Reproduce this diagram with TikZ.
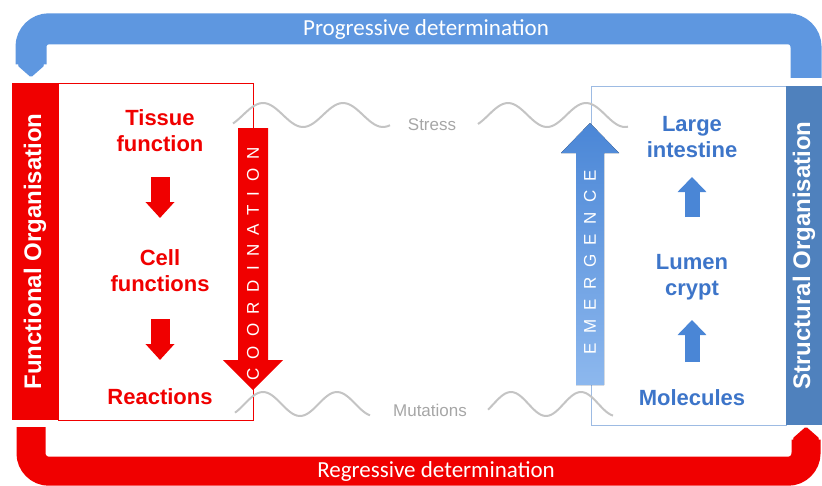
\documentclass[tikz,border=0pt]{standalone}
\usepackage{fontspec}
\setmainfont{Liberation Sans}
\newfontfamily\bandfont{Carlito}
\newfontfamily\spacedfont[LetterSpace=55]{Liberation Sans}
\usetikzlibrary{arrows.meta, positioning}
\definecolor{FuncRed}       {HTML}{F00000}
\definecolor{StructBlue}    {HTML}{4F81BD}
\definecolor{EdgeBlue}      {HTML}{9DBBE3}
\definecolor{TextBlue}      {HTML}{3D75C9}
\definecolor{ArrowBlue}     {HTML}{4A86D6}
\definecolor{LightArrowBlue}{HTML}{8DB8EE}
\definecolor{ProgBlue}      {HTML}{5E97E0}
\definecolor{WaveGray}      {HTML}{C4C4C4}
\definecolor{NoteGray}      {HTML}{A6A6A6}

\begin{document}
\begin{tikzpicture}[
		x=1pt, y=-1pt,
		orgbar/.style={rotate=90, inner sep=0pt, text=white,
			font=\bfseries\fontsize{24}{28}\selectfont},
		orgbox/.style={line width=1pt, inner sep=0pt},
		level/.style={font=\bfseries\fontsize{22}{26}\selectfont,
			align=center, inner sep=0pt},
		note/.style={text=NoteGray, font=\fontsize{17}{20}\selectfont, inner sep=0pt},
		band/.style={text=white, font=\bandfont\fontsize{23}{26}\selectfont, inner sep=0pt},
		spaced/.style={rotate=90, text=white,
			font=\spacedfont\fontsize{17}{19}\selectfont, inner sep=0pt},
		wave/.style={WaveGray, line width=2pt, smooth, samples=60},
		redarr/.style={FuncRed, line width=19pt, -{Triangle[width=28pt, length=16pt]}},
		bluearr/.style={ArrowBlue, line width=15pt, -{Triangle[width=28pt, length=15pt]}},
		bandarr/.style={line width=31pt, rounded corners=18pt,
			-{Triangle[width=31pt, length=14pt, round]}},
		]
		\useasboundingbox (0,0) rectangle (822,485);
		% ── Frames of the two organisations ──────────────────────────────────────────
		\node[orgbox, draw=FuncRed, minimum width=195pt, minimum height=337pt] (funcbox) at (155.5,251.5) {};
		\node[orgbox, draw=EdgeBlue, minimum width=195pt, minimum height=339pt] (structbox) at (688.5,255.5) {};
		% ── Perturbation waves ───────────────────────────────────────────────────────
		\draw[wave] plot[domain=233:390] (\x, {115-12*cos(4.5*(\x-263))});
		\draw[wave] plot[domain=478:628] (\x, {115-12*cos(4.615*(\x-508))});
		\draw[wave] plot[domain=235:370] (\x, {404-12*cos(4.865*(\x-263))});
		\draw[wave] plot[domain=488:613] (\x, {404-12*cos(5.143*(\x-511))});
		\node[note] (stress) at (432,125) {Stress};
		\node[note] (mut)    at (430,410) {Mutations};
		% ── Coordination / emergence ─────────────────────────────────────────────────
		\fill[FuncRed] (238,128) -- (268,128) -- (268,360) -- (283,360) -- (253,390)
		-- (223,360) -- (238,360) -- cycle;
		\fill[top color=ArrowBlue, bottom color=LightArrowBlue] (576,385) -- (576,153)
		-- (561,153) -- (590,123) -- (619,153) -- (604,153) -- (604,385) -- cycle;
		\node[spaced] (coord) at (253,264) {COORDINATION};
		\node[spaced] (emerg) at (590,262) {EMERGENCE};
		% ── Side bars ────────────────────────────────────────────────────────────────
		\node[orgbar, fill=FuncRed, minimum width=337pt, minimum height=46pt]
		(func) at (35,251.5) {Functional Organisation};
		\node[orgbar, fill=StructBlue, minimum width=339pt, minimum height=36pt]
		(struct) at (804,255.5) {Structural Organisation};
		% ── Levels ───────────────────────────────────────────────────────────────────
		\node[level, text=FuncRed]  (tissue) at (160,131) {Tissue\\function};
		\node[level, text=FuncRed]  (cell)   at (160,271) {Cell\\functions};
		\node[level, text=FuncRed]  (react)  at (160,397) {Reactions};
		\node[level, text=TextBlue] (large)  at (692,137) {Large\\intestine};
		\node[level, text=TextBlue] (lumen)  at (692,277) {Lumen\\crypt};
		\node[level, text=TextBlue] (molec)  at (692,398) {Molecules};
		\foreach \a/\b/\s/\e in {tissue/cell/46/53, cell/react/48/37}
		\draw[redarr, shorten <=\s pt, shorten >=\e pt] (\a.center) -- (\b.center);
		\foreach \a/\b/\s/\e in {molec/lumen/36/43, lumen/large/60/40}
		\draw[bluearr, shorten <=\s pt, shorten >=\e pt] (\a.center) -- (\b.center);
		% ── Determination bands ──────────────────────────────────────────────────────
		\draw[bandarr, ProgBlue] ([xshift=2pt, yshift=8pt]struct.east) -- ++(0,-49)
		-| ([xshift=-4pt, yshift=6pt]func.east);
		\draw[bandarr, FuncRed, line width=29pt] ([xshift=-4pt, yshift=-7pt]func.west) -- ++(0,44)
		-| ([xshift=2pt, yshift=-2pt]struct.west);
		\node[band] (prog) at (426,29)  {Progressive determination};
		\node[band] (regr) at (436,471) {Regressive determination};
	\end{tikzpicture}
\end{document}
